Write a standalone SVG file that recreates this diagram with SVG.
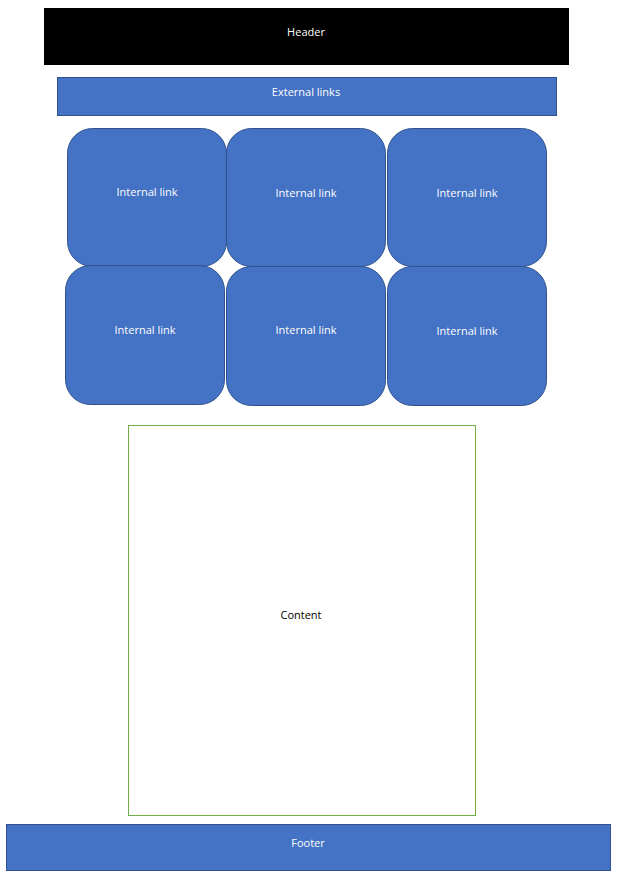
<svg xmlns="http://www.w3.org/2000/svg" width="617" height="879" viewBox="0 0 617 879">
<style>
.blue{fill:#4472C4;stroke:#2F528F;stroke-width:1}
.t{font-family:"Open Sans","Noto Sans",sans-serif;font-size:11px;fill:#ffffff;text-anchor:middle}
.tb{font-family:"Open Sans","Noto Sans",sans-serif;font-size:11px;fill:#000000;text-anchor:middle}
</style>
<rect width="617" height="879" fill="#ffffff"/>
<g id="header">
<rect x="44" y="8" width="525" height="57" fill="#000000"/>
<text class="t" x="306" y="36">Header</text>
</g>
<g id="external-links">
<rect class="blue" x="57.5" y="77.5" width="499" height="38"/>
<text class="t" x="306" y="96">External links</text>
</g>
<g id="internal-link-1">
<rect class="blue" x="67.5" y="128.5" width="159" height="138" rx="25"/>
<text class="t" x="147" y="196">Internal link</text>
</g>
<g id="internal-link-2">
<rect class="blue" x="226.5" y="128.5" width="159" height="138" rx="25"/>
<text class="t" x="306" y="197">Internal link</text>
</g>
<g id="internal-link-3">
<rect class="blue" x="387.5" y="128.5" width="159" height="138" rx="25"/>
<text class="t" x="467" y="197">Internal link</text>
</g>
<g id="internal-link-4">
<rect class="blue" x="65.5" y="265.5" width="159" height="139" rx="25"/>
<text class="t" x="145" y="334">Internal link</text>
</g>
<g id="internal-link-5">
<rect class="blue" x="226.5" y="266.5" width="159" height="139" rx="25"/>
<text class="t" x="306" y="334">Internal link</text>
</g>
<g id="internal-link-6">
<rect class="blue" x="387.5" y="266.5" width="159" height="139" rx="25"/>
<text class="t" x="467" y="335">Internal link</text>
</g>
<g id="content">
<rect x="128.5" y="425.5" width="347" height="390" fill="#ffffff" stroke="#70AD47" stroke-width="1"/>
<text class="tb" x="301" y="619">Content</text>
</g>
<g id="footer">
<rect class="blue" x="6.5" y="824.5" width="604" height="46"/>
<text class="t" x="308" y="847">Footer</text>
</g>
<g id="connectors"/>
</svg>
